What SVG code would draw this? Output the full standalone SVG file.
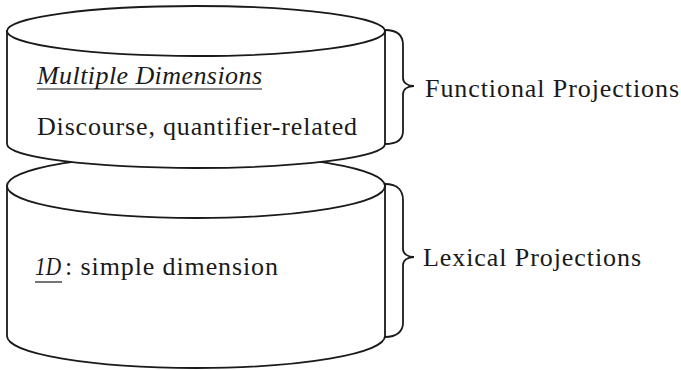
<svg xmlns="http://www.w3.org/2000/svg" width="681" height="370" viewBox="0 0 681 370">
  <style>
    .shape { fill: #ffffff; stroke: #1a1a1a; stroke-width: 1.8; }
    .edge { fill: none; stroke: #1a1a1a; stroke-width: 1.8; }
    .txt { font-family: "Liberation Serif", "Times New Roman", serif; font-size: 26px; fill: #1a1a1a; }
    .it { font-style: italic; }
    .ul { stroke: #1a1a1a; stroke-width: 1.2; }
  </style>
  <rect width="681" height="370" fill="#ffffff"/>

  <!-- lower layer: lexical projections -->
  <g id="lexical-layer">
    <path class="shape" d="M7,186 L7,336 A189,32 0 0 0 385,336 L385,186 Z"/>
    <ellipse class="shape" cx="196" cy="186" rx="189" ry="32"/>
    <text class="txt it" x="35" y="275" textLength="26" lengthAdjust="spacingAndGlyphs">1D</text>
    <text class="txt" x="65" y="275" textLength="213">: simple dimension</text>
    <line class="ul" x1="35" y1="282" x2="62" y2="282"/>
  </g>

  <!-- upper layer: functional projections -->
  <g id="functional-layer">
    <path class="shape" d="M7,31 L7,144 A189,24 0 0 0 385,144 L385,31 Z"/>
    <ellipse class="shape" cx="196" cy="31" rx="189" ry="25"/>
    <text class="txt it" x="37" y="84" textLength="225">Multiple Dimensions</text>
    <line class="ul" x1="37" y1="89" x2="262" y2="89"/>
    <text class="txt" x="37" y="135" textLength="320">Discourse, quantifier-related</text>
  </g>

  <!-- braces grouping each layer -->
  <g id="connectors">
    <path class="edge" d="M385,30 C398,30 403,36 403,45 L403,78 C403,83 408,86 414,86 C408,86 403,89 403,94 L403,131 C403,139 397,144 385,144"/>
    <path class="edge" d="M385,184 C398,184 403,191 403,200 L403,249 C403,254 408,257 414,257 C408,257 403,260 403,265 L403,323 C403,331 397,337 385,337"/>
  </g>

  <g id="label-functional">
    <text class="txt" x="425" y="97" textLength="254">Functional Projections</text>
  </g>
  <g id="label-lexical">
    <text class="txt" x="423" y="266" textLength="218">Lexical Projections</text>
  </g>
</svg>
